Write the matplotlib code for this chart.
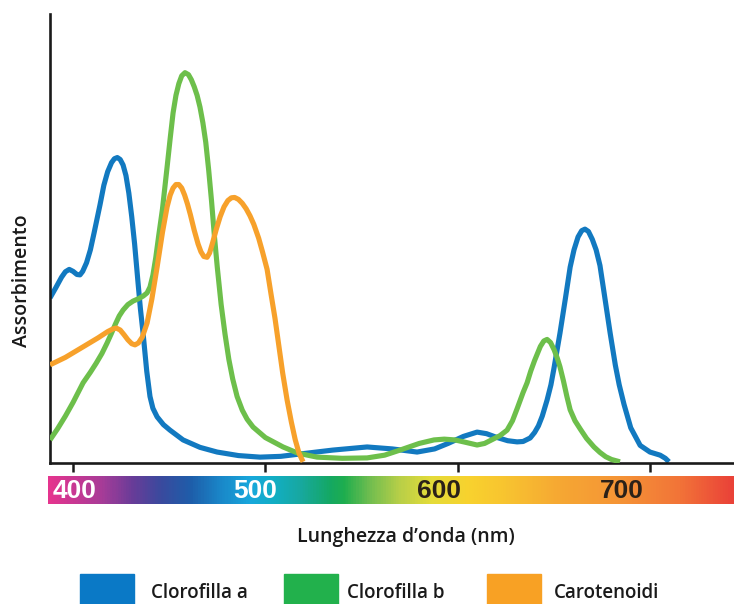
import matplotlib
matplotlib.use("Agg")
import matplotlib.pyplot as plt
import numpy as np
from matplotlib.colors import LinearSegmentedColormap
from matplotlib.patches import Rectangle

# ---- data (wavelength nm, relative absorbance) ----
wl_a = [388, 391, 394, 396, 398, 400, 402, 403.6, 405, 407, 409, 411, 414, 416, 418, 420,
        421.5, 423, 424.5, 426, 427.5, 429, 430.5, 432, 433.8, 435, 436.4, 438.3, 440, 441.5,
        443.7, 447, 450.4, 457.2, 466, 474.9, 486, 497.2, 508, 518, 535, 552.9, 566, 578.9,
        588, 595, 603, 610.1, 615, 620, 626, 630.9, 634, 637.7, 640, 642, 644, 646.5, 648.5,
        650, 653.2, 656, 658.5, 660.5, 662.6, 664.5, 666.2, 668, 670, 672, 674, 676, 679.3,
        682, 684, 686.5, 690, 694.9, 700, 705.3, 708, 709.9]
abs_a = [0.422, 0.448, 0.475, 0.489, 0.495, 0.490, 0.482, 0.481, 0.490, 0.512, 0.545, 0.590,
         0.660, 0.710, 0.745, 0.768, 0.778, 0.781, 0.776, 0.762, 0.735, 0.690, 0.630, 0.560,
         0.460, 0.395, 0.332, 0.235, 0.170, 0.140, 0.118, 0.098, 0.084, 0.059, 0.040, 0.028,
         0.019, 0.015, 0.017, 0.023, 0.033, 0.041, 0.036, 0.028, 0.036, 0.050, 0.068, 0.079,
         0.075, 0.066, 0.057, 0.054, 0.055, 0.064, 0.078, 0.095, 0.120, 0.161, 0.200, 0.240,
         0.332, 0.420, 0.501, 0.545, 0.578, 0.594, 0.598, 0.592, 0.572, 0.545, 0.505, 0.440,
         0.332, 0.250, 0.200, 0.150, 0.090, 0.045, 0.028, 0.020, 0.012, 0.003]

wl_b = [388, 392, 396, 400, 405.2, 409, 412, 415, 417.7, 420, 422, 424, 426, 428.5, 431.2,
        434, 436.5, 438.5, 440, 441.5, 443, 444.5, 446.5, 448.9, 450.5, 452, 453.5, 455, 456.5,
        458.2, 460, 461.5, 463, 464.5, 466, 467.5, 469, 470.5, 472, 473.5, 475, 477, 479, 481,
        483, 485.3, 488, 490.5, 493.6, 500, 509.2, 517, 526.9, 540, 552.9, 562, 570, 580, 587.7,
        593, 598.6, 604, 610.1, 614, 618, 622, 625.7, 628.5, 631, 634, 636.1, 638, 640, 641.5,
        643, 644.8, 646.5, 648.3, 650.2, 651.8, 653.2, 655, 656.8, 658.5, 661, 664, 667, 670.9,
        674, 677, 680, 684.4]
abs_b = [0.059, 0.088, 0.120, 0.155, 0.205, 0.232, 0.255, 0.280, 0.307, 0.332, 0.355, 0.376,
         0.391, 0.405, 0.414, 0.420, 0.427, 0.435, 0.450, 0.480, 0.525, 0.580, 0.650, 0.757,
         0.830, 0.895, 0.940, 0.970, 0.990, 0.998, 0.993, 0.980, 0.962, 0.940, 0.910, 0.870,
         0.820, 0.750, 0.670, 0.580, 0.500, 0.405, 0.330, 0.265, 0.215, 0.170, 0.135, 0.112,
         0.092, 0.065, 0.041, 0.025, 0.015, 0.012, 0.013, 0.020, 0.033, 0.050, 0.059, 0.061,
         0.059, 0.053, 0.046, 0.050, 0.060, 0.070, 0.084, 0.108, 0.140, 0.180, 0.205, 0.235,
         0.262, 0.280, 0.298, 0.312, 0.316, 0.308, 0.289, 0.268, 0.246, 0.210, 0.170, 0.136,
         0.108, 0.085, 0.063, 0.041, 0.027, 0.016, 0.009, 0.003]

wl_c = [388, 396, 405.2, 413, 418, 420.8, 422.5, 424.5, 426.5, 428.5, 430.5, 432.2, 434, 436,
        438.5, 441, 443.7, 446.5, 448.9, 450.5, 452, 453.5, 455, 456.5, 458, 459.5, 461, 463,
        465, 466.5, 468, 469.7, 471, 472.5, 474.5, 476.5, 478.5, 480.5, 482.3, 484, 486, 488,
        490, 492, 494, 496.5, 498.5, 500.9, 503, 505, 507, 509, 511.3, 513.5, 515.5, 517.5,
        519.6]
abs_c = [0.251, 0.270, 0.297, 0.320, 0.336, 0.343, 0.345, 0.340, 0.328, 0.315, 0.305, 0.302,
         0.307, 0.322, 0.358, 0.420, 0.501, 0.590, 0.655, 0.685, 0.703, 0.712, 0.712, 0.703,
         0.685, 0.662, 0.635, 0.595, 0.560, 0.540, 0.528, 0.526, 0.537, 0.562, 0.598, 0.630,
         0.655, 0.671, 0.678, 0.679, 0.674, 0.664, 0.650, 0.632, 0.610, 0.575, 0.540, 0.495,
         0.430, 0.370, 0.300, 0.230, 0.161, 0.105, 0.060, 0.025, 0.003]

series_names = ["Clorofilla a", "Clorofilla b", "Carotenoidi"]
tick_values = [400, 500, 600, 700]
tick_labels = ["400", "500", "600", "700"]
x_label = "Lunghezza d\u2019onda (nm)"
y_label = "Assorbimento"

# ---- styles ----
line_colors = ["#1279c0", "#6dbf4b", "#f7a12b"]
legend_colors = ["#0a79c6", "#22b14c", "#f8a124"]
text_color = "#1a1a1a"
font = "Open Sans"

W, H = 734, 604
fig = plt.figure(figsize=(W / 100, H / 100), dpi=100)

def fx(px):
    return px / W

def fy(py):
    return 1 - py / H

# main axes: left spine at x=50, bottom spine at y=463, top at y=14
ax = fig.add_axes([fx(50), fy(463), fx(734 - 50), (463 - 14) / H])
ax.set_xlim(388.0, 743.7)
ax.set_ylim(0, 1.148)

for wl, ab, c, z in zip([wl_a, wl_b, wl_c], [abs_a, abs_b, abs_c], line_colors, [2, 3, 4]):
    ax.plot(wl, ab, color=c, lw=3.7, solid_joinstyle="round", solid_capstyle="butt", zorder=z)

for s in ["top", "right"]:
    ax.spines[s].set_visible(False)
for s in ["left", "bottom"]:
    ax.spines[s].set_linewidth(1.9)
    ax.spines[s].set_color("#1a1a1a")
ax.set_yticks([])
ax.set_xticks(tick_values)
ax.set_xticklabels([])
ax.tick_params(axis="x", direction="out", length=6.5, width=1.8, color="#1a1a1a")

# spectrum color bar
bar = fig.add_axes([fx(48), fy(504), fx(734 - 48), 28 / H])
bar_xmin, bar_xmax = 387.0, 743.7
stops = [(387, "#e5348e"), (414, "#a83c98"), (430, "#6a3c98"), (445, "#3a4a9e"),
         (461, "#1e5eaa"), (476, "#1a86c8"), (492, "#18a8dc"), (505, "#12aec2"),
         (518, "#18a8a0"), (534, "#14a862"), (541, "#1fae4e"), (554, "#6fbd50"),
         (570, "#b8cf48"), (586, "#e4dc3a"), (606, "#f8d22e"), (625, "#f8c430"),
         (653, "#f6a833"), (684, "#f59536"), (716, "#f27438"), (743.7, "#ea4238")]
cmap = LinearSegmentedColormap.from_list(
    "spec", [((w - bar_xmin) / (bar_xmax - bar_xmin), c) for w, c in stops])
grad = np.linspace(0, 1, 800).reshape(1, -1)
bar.imshow(grad, aspect="auto", cmap=cmap, extent=[bar_xmin, bar_xmax, 0, 1])
bar.set_xlim(bar_xmin, bar_xmax)
bar.set_ylim(0, 1)
bar.axis("off")

label_shift = [1, -5.4, -9.7, -14.5]
label_colors = ["white", "white", "#2b2118", "#2b2118"]
for v, t, sh, c in zip(tick_values, tick_labels, label_shift, label_colors):
    bar.text(v + sh, 0.45, t, ha="center", va="center", color=c,
             fontsize=19, fontweight="bold", family="Liberation Sans")

# axis labels
fig.text(fx(406), fy(537), x_label, ha="center", va="center", fontsize=14,
         fontweight="semibold", family=font, color=text_color)
fig.text(fx(22), fy(281), y_label, ha="center", va="center", rotation=90, fontsize=14,
         fontweight="semibold", family=font, color=text_color)

# legend
rect_x = [80, 284, 487]
text_x = [151, 347, 554]
for name, c, rx, tx in zip(series_names, legend_colors, rect_x, text_x):
    fig.patches.append(Rectangle((fx(rx), 0), fx(54), (604 - 574) / H,
                                 transform=fig.transFigure, color=c, zorder=1))
    fig.text(fx(tx), fy(593), name, ha="left", va="center", fontsize=13.5,
             fontweight="semibold", family=font, color=text_color)

fig.savefig("out.png", dpi=100)
